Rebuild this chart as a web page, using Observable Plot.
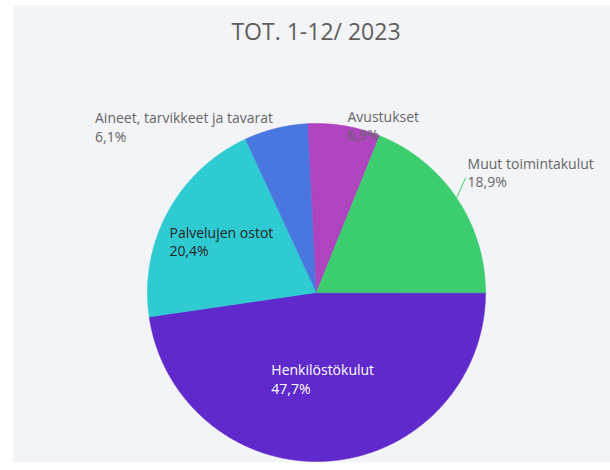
<!DOCTYPE html>
<html>
<head>
<meta charset="utf-8">
<script src="https://cdn.jsdelivr.net/npm/d3@7"></script>
<script src="https://cdn.jsdelivr.net/npm/@observablehq/plot@0.6"></script>
<style>
html, body { margin: 0; padding: 0; background: #ffffff; }
#wrap { position: relative; width: 610px; height: 470px; overflow: hidden; }
#panel { position: absolute; left: 13px; top: 5px; width: 597px; height: 457px; background: #F3F4F8; }
#title { position: absolute; left: 0; top: 16px; width: 632px; text-align: center;
  font-family: "Open Sans", sans-serif; font-size: 23px; line-height: 31px; color: #605E5C; margin: 0; font-weight: 400; }
#chart { position: absolute; left: 0; top: 0; }
</style>
</head>
<body>
<div id="wrap">
  <div id="panel"></div>
  <h2 id="title"></h2>
  <div id="chart"></div>
</div>
<script>
// ---- data ----
const titleText = "TOT. 1-12/ 2023";
const categories = ["Henkilöstökulut", "Palvelujen ostot", "Aineet, tarvikkeet ja tavarat", "Avustukset", "Muut toimintakulut"];
const shares = [47.7, 20.4, 6.1, 6.9, 18.9];
const colors = ["#5F29CB", "#2ECBD3", "#4A76E0", "#AE44BE", "#3CCE6E"];

// ---- layout (code, not data) ----
const W = 610, H = 470;
const CX = 316, CY = 292, R = 169;
const FONT = "'Open Sans', sans-serif";
const FS = 14;
const LH = 18.5;
const labelMode = ["inside", "inside", "outside", "outside", "outside"];
const insideR = [0.51, 0.64, 0, 0, 0];
const labelColor = ["#FFFFFF", "#252423", "#666666", "#666666", "#666666"];
const leaderOffset = [null, null, null, null, [9, 20]];

document.getElementById("title").textContent = titleText;

const total = d3.sum(shares);
const fmt = v => d3.format(".1f")(v / total * 100).replace(".", ",") + "%";

const arcs = d3.pie().sort(null).startAngle(Math.PI / 2).endAngle(Math.PI / 2 + 2 * Math.PI)(shares);

// slice polygons in data units (1 unit = 1 px, y up)
const poly = [];
arcs.forEach((a, i) => {
  poly.push({cat: categories[i], x: 0, y: 0});
  const n = Math.max(2, Math.ceil((a.endAngle - a.startAngle) / (Math.PI / 360)));
  for (let k = 0; k <= n; k++) {
    const t = a.startAngle + (a.endAngle - a.startAngle) * k / n;
    poly.push({cat: categories[i], x: R * Math.sin(t), y: R * Math.cos(t)});
  }
});

// text measurement
const ctx = document.createElement("canvas").getContext("2d");
ctx.font = `${FS}px ${FONT}`;
const tw = s => ctx.measureText(s).width;

const labels = [];
const leaders = [];
arcs.forEach((a, i) => {
  const mid = (a.startAngle + a.endAngle) / 2;
  const l1 = categories[i], l2 = fmt(shares[i]);
  const w = Math.max(tw(l1), tw(l2));
  let x, y;
  if (labelMode[i] === "inside") {
    const r = R * insideR[i];
    x = r * Math.sin(mid) - w / 2;
    y = r * Math.cos(mid);
  } else {
    const ex = R * Math.sin(mid), ey = R * Math.cos(mid);
    if (leaderOffset[i]) {
      const lx = ex + leaderOffset[i][0], ly = ey + leaderOffset[i][1];
      leaders.push({x1: ex, y1: ey, x2: lx, y2: ly, cat: categories[i]});
      x = lx + 2; y = ly + 6;
    } else if (Math.sin(mid) >= 0) {
      x = ex + 3; y = ey + 1;
    } else {
      x = ex - 3 - w; y = ey + 2;
    }
  }
  labels.push({i, x, y, text: l1 + "\n" + l2});
});

const textMarks = labels.map(l => Plot.text([l], {
  x: "x", y: "y", text: "text",
  textAnchor: "start", lineAnchor: "middle",
  lineHeight: LH / FS, fontSize: FS, fontFamily: FONT,
  fill: labelColor[l.i]
}));

const chart = Plot.plot({
  width: W, height: H,
  margin: 0,
  x: {domain: [-CX, W - CX], range: [0, W], axis: null},
  y: {domain: [-(H - CY), CY], range: [H, 0], axis: null},
  color: {type: "ordinal", domain: categories, range: colors},
  style: {background: "transparent", fontFamily: FONT},
  marks: [
    Plot.line(poly, {x: "x", y: "y", z: "cat", fill: "cat", stroke: "cat", strokeWidth: 0.6, curve: "linear-closed"}),
    Plot.link(leaders, {x1: "x1", y1: "y1", x2: "x2", y2: "y2", stroke: "cat", strokeWidth: 1}),
    ...textMarks
  ]
});
document.getElementById("chart").appendChild(chart);
</script>
</body>
</html>
